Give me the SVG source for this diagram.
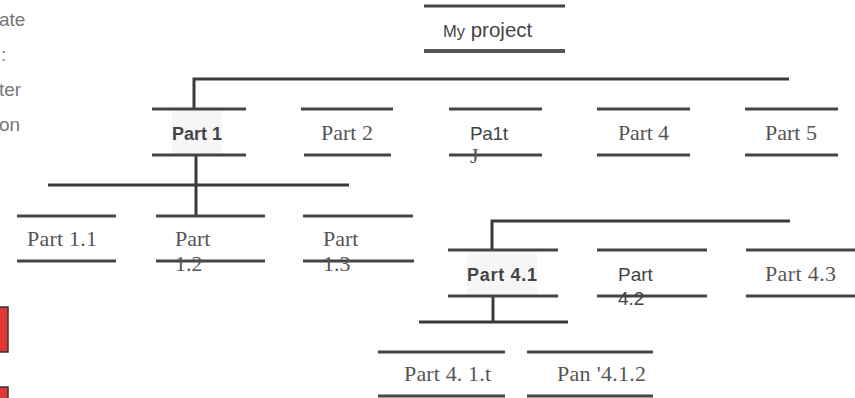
<svg xmlns="http://www.w3.org/2000/svg" width="855" height="398" viewBox="0 0 855 398">
<style>
.ln{stroke:#444;stroke-width:3;fill:none}
.lnb{stroke:#555;stroke-width:4;fill:none}
.con{stroke:#3a3a3a;stroke-width:3;fill:none}
.serif{font-family:"Liberation Serif","Times New Roman",serif;font-size:22px;fill:#555}
.sans{font-family:"Liberation Sans",Arial,sans-serif;font-size:19px;fill:#444}
.bold{font-family:"Liberation Sans",Arial,sans-serif;font-weight:bold;font-size:18px;fill:#444}
.side{font-family:"Liberation Sans",Arial,sans-serif;font-size:19px;fill:#777}
.shade{fill:#f6f6f6}
</style>
<rect width="855" height="398" fill="#fff"/>
<g id="side-text">
<text class="side" x="-1" y="26">ate</text>
<text class="side" x="1" y="61">:</text>
<text class="side" x="-1" y="96">ter</text>
<text class="side" x="-1" y="131">on</text>
</g>
<g id="red-boxes">
<rect x="-10" y="307" width="18" height="45" fill="#e53535" stroke="#333" stroke-width="1.5"/>
<rect x="-10" y="387" width="18" height="20" fill="#e53535" stroke="#333" stroke-width="1.5"/>
</g>
<g id="connectors">
<path class="con" d="M194 109V79H789"/>
<path class="con" d="M196 155V216"/>
<path class="con" d="M48 185H349"/>
<path class="con" d="M492 250V221H790"/>
<path class="con" d="M493 296V322"/>
<path class="con" d="M419 322H568"/>
</g>
<g id="node-root">
<line class="ln" x1="424" y1="6" x2="565" y2="6"/>
<line class="lnb" x1="424" y1="51" x2="565" y2="51"/>
<text x="443" y="37" font-family="Liberation Sans,Arial,sans-serif" fill="#444"><tspan font-size="16.5">My</tspan><tspan font-size="20.5"> project</tspan></text>
</g>
<g id="node-part1">
<rect class="shade" x="172" y="111" width="50" height="43"/>
<line class="ln" x1="152" y1="109" x2="246" y2="109"/>
<line class="ln" x1="152" y1="155" x2="246" y2="155"/>
<text class="bold" x="172" y="140" textLength="50">Part 1</text>
</g>
<g id="node-part2">
<line class="ln" x1="301" y1="109" x2="393" y2="109"/>
<line class="ln" x1="304" y1="155" x2="391" y2="155"/>
<text class="serif" x="321" y="140" textLength="52">Part 2</text>
</g>
<g id="node-part3">
<line class="ln" x1="449" y1="109" x2="542" y2="109"/>
<line class="ln" x1="449" y1="155" x2="542" y2="155"/>
<text class="sans" x="470" y="140" textLength="38">Pa1t</text>
<text class="serif" x="470" y="163" font-size="18">J</text>
</g>
<g id="node-part4">
<line class="ln" x1="597" y1="109" x2="690" y2="109"/>
<line class="ln" x1="597" y1="155" x2="690" y2="155"/>
<text class="serif" x="618" y="140" textLength="51">Part 4</text>
</g>
<g id="node-part5">
<line class="ln" x1="745" y1="109" x2="838" y2="109"/>
<line class="ln" x1="745" y1="155" x2="838" y2="155"/>
<text class="serif" x="765" y="140" textLength="52">Part 5</text>
</g>
<g id="node-part1-1">
<line class="ln" x1="17" y1="216" x2="116" y2="216"/>
<line class="ln" x1="17" y1="261" x2="116" y2="261"/>
<text class="serif" x="27" y="246" textLength="70">Part 1.1</text>
</g>
<g id="node-part1-2">
<line class="ln" x1="156" y1="216" x2="265" y2="216"/>
<line class="ln" x1="156" y1="261" x2="265" y2="261"/>
<text class="serif" x="175" y="246">Part</text>
<text class="serif" x="175" y="271">1.2</text>
</g>
<g id="node-part1-3">
<line class="ln" x1="303" y1="216" x2="413" y2="216"/>
<line class="ln" x1="303" y1="261" x2="414" y2="261"/>
<text class="serif" x="323" y="246">Part</text>
<text class="serif" x="323" y="271">1.3</text>
</g>
<g id="node-part4-1">
<rect class="shade" x="467" y="252" width="70" height="42"/>
<line class="ln" x1="448" y1="250" x2="558" y2="250"/>
<line class="ln" x1="448" y1="296" x2="558" y2="296"/>
<text class="bold" x="467" y="281" textLength="70">Part 4.1</text>
</g>
<g id="node-part4-2">
<line class="ln" x1="597" y1="250" x2="707" y2="250"/>
<line class="ln" x1="597" y1="296" x2="707" y2="296"/>
<text class="sans" x="618" y="281">Part</text>
<text class="sans" x="618" y="305" fill="#777">4.2</text>
</g>
<g id="node-part4-3">
<line class="ln" x1="746" y1="250" x2="855" y2="250"/>
<line class="ln" x1="746" y1="296" x2="855" y2="296"/>
<text class="serif" x="765" y="281" textLength="71">Part 4.3</text>
</g>
<g id="node-part4-1-1">
<line class="ln" x1="378" y1="352" x2="505" y2="352"/>
<line class="ln" x1="378" y1="396" x2="505" y2="396"/>
<text class="serif" x="404" y="381" textLength="87">Part 4. 1.t</text>
</g>
<g id="node-part4-1-2">
<line class="ln" x1="527" y1="352" x2="653" y2="352"/>
<line class="ln" x1="527" y1="396" x2="653" y2="396"/>
<text class="serif" x="557" y="381" textLength="89">Pan '4.1.2</text>
</g>
</svg>
